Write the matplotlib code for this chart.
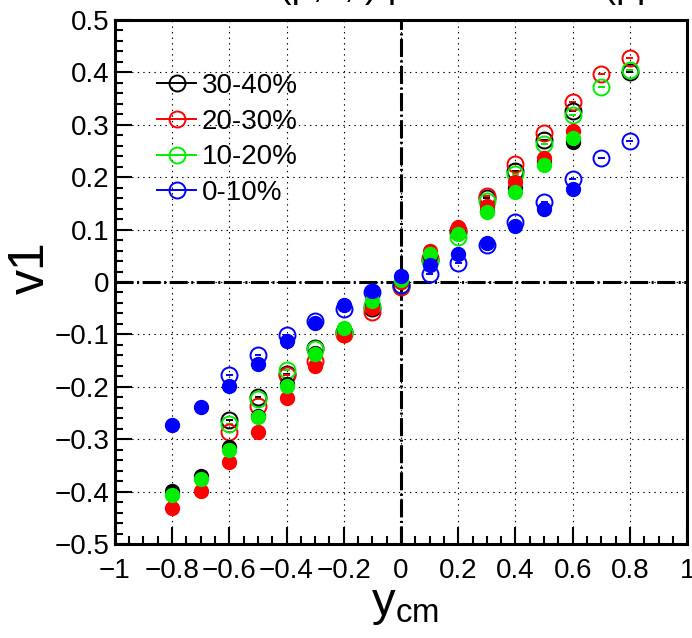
import numpy as np
import matplotlib
matplotlib.use("Agg")
import matplotlib.pyplot as plt
from matplotlib.lines import Line2D
from matplotlib.ticker import MultipleLocator

plt.rcParams['font.family'] = ['Liberation Sans', 'DejaVu Sans']
plt.rcParams['mathtext.default'] = 'regular'
plt.rcParams['lines.scale_dashes'] = False

# filled markers (backward side), open markers (forward side)
x_filled = [-0.8, -0.7, -0.6, -0.5, -0.4, -0.3, -0.2, -0.1, 0.0, 0.1, 0.2, 0.3, 0.4, 0.5, 0.6]
x_open = [-0.6, -0.5, -0.4, -0.3, -0.2, -0.1, 0.0, 0.1, 0.2, 0.3, 0.4, 0.5, 0.6, 0.7, 0.8]

labels = ["30-40%", "20-30%", "10-20%", "0-10%"]
colors = ["black", "#ff0000", "#00ee00", "#0000ff"]

v1_filled_30_40 = [-0.398, -0.370, -0.315, -0.255, -0.195, -0.135, -0.090, -0.040, 0.000, 0.050, 0.095, 0.135, 0.180, 0.230, 0.266]
v1_filled_20_30 = [-0.431, -0.398, -0.344, -0.286, -0.221, -0.161, -0.102, -0.050, 0.000, 0.060, 0.104, 0.145, 0.190, 0.237, 0.288]
v1_filled_10_20 = [-0.407, -0.375, -0.320, -0.258, -0.199, -0.138, -0.088, -0.036, 0.003, 0.053, 0.091, 0.133, 0.171, 0.223, 0.275]
v1_filled_0_10 = [-0.272, -0.239, -0.199, -0.156, -0.112, -0.079, -0.043, -0.017, 0.012, 0.033, 0.053, 0.075, 0.107, 0.139, 0.177]

v1_open_30_40 = [-0.264, -0.220, -0.175, -0.125, -0.095, -0.050, -0.007, 0.042, 0.095, 0.161, 0.212, 0.270, 0.326, np.nan, 0.400]
v1_open_20_30 = [-0.286, -0.236, -0.178, -0.150, -0.100, -0.058, -0.010, 0.045, 0.100, 0.164, 0.225, 0.285, 0.343, 0.396, 0.428]
v1_open_10_20 = [-0.270, -0.224, -0.168, -0.128, -0.095, -0.045, -0.006, 0.040, 0.085, 0.155, 0.206, 0.263, 0.319, 0.371, 0.404]
v1_open_0_10 = [-0.177, -0.140, -0.102, -0.075, -0.051, -0.020, -0.005, 0.015, 0.037, 0.071, 0.114, 0.152, 0.196, 0.237, 0.268]

filled = [v1_filled_30_40, v1_filled_20_30, v1_filled_10_20, v1_filled_0_10]
opened = [v1_open_30_40, v1_open_20_30, v1_open_10_20, v1_open_0_10]

fig = plt.figure(figsize=(6.92, 6.38), dpi=100)
ax = fig.add_axes([0.166, 0.147, 0.827, 0.822])

# grid + zero lines
ax.grid(True, which='major', color='black', linestyle=(0, (1, 3)), linewidth=0.8)
ax.axhline(0, color='black', lw=2.2, dashes=(13, 2.5, 1.5, 2.5), zorder=1)
ax.axvline(0, color='black', lw=2.2, dashes=(13, 2.5, 1.5, 2.5), zorder=1)

for c, yf, yo in zip(colors, filled, opened):
    ax.errorbar(x_open, yo, xerr=0.012, fmt='o', ms=11.5, mfc='none', mec=c, mew=1.4,
                ecolor=c, elinewidth=1.4, zorder=3)
    ax.errorbar(x_filled, yf, xerr=0.012, fmt='o', ms=10, mfc=c, mec=c, mew=1,
                ecolor=c, elinewidth=1.4, zorder=4)

ax.set_xlim(-1, 1)
ax.set_ylim(-0.5, 0.5)
ax.xaxis.set_minor_locator(MultipleLocator(0.05))
ax.yaxis.set_minor_locator(MultipleLocator(0.02))
ax.set_xticks(np.arange(-1, 1.01, 0.2))
ax.set_xticklabels(["\u22121", "\u22120.8", "\u22120.6", "\u22120.4", "\u22120.2", "0",
                    "0.2", "0.4", "0.6", "0.8", "1"])
ax.set_yticks(np.arange(-0.5, 0.51, 0.1))
ax.set_yticklabels(["\u22120.5", "\u22120.4", "\u22120.3", "\u22120.2", "\u22120.1", "0",
                    "0.1", "0.2", "0.3", "0.4", "0.5"])
ax.tick_params(which='both', direction='in', top=False, right=False, labelsize=20, width=1.5)
ax.tick_params(which='major', length=12)
ax.tick_params(which='minor', length=6)
ax.tick_params(axis='x', pad=10)
ax.tick_params(axis='y', pad=4)
for s in ax.spines.values():
    s.set_linewidth(2.2)

handles = [Line2D([0], [0], color=c, marker='o', mfc='none', mec=c, ms=11.5, mew=1.4, lw=1.4)
           for c in colors]
ax.legend(handles, labels, loc='upper left', bbox_to_anchor=(0.055, 0.92), frameon=False,
          fontsize=20, handlelength=1.4, handletextpad=0.2, labelspacing=0.35,
          borderaxespad=0)

fig.text(0.045, 0.58, "v1", fontsize=36, rotation=90, ha='center', va='center')
fig.text(0.585, 0.052, r"y$_{cm}$", fontsize=34, ha='center', va='center')
# title, cut off by the top edge as in the original
fig.text(0.735, 1.004, "(p,d,t) p+Au 3 GeV (pp+Sn)", fontsize=27, ha='center', va='baseline')

fig.savefig("out.png", dpi=100)
